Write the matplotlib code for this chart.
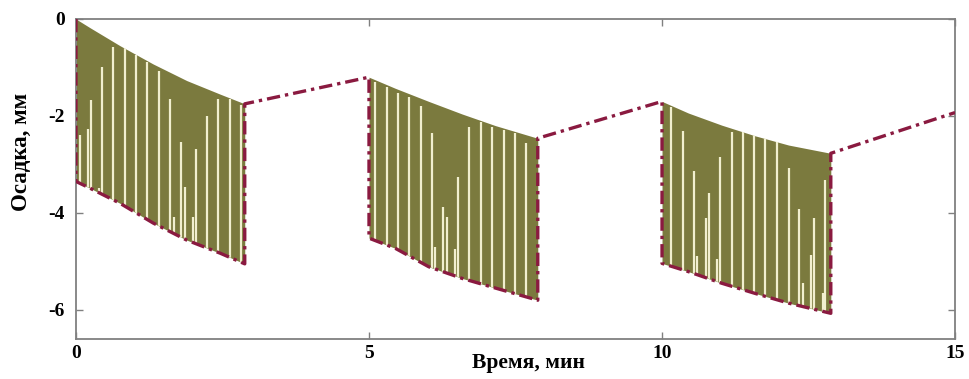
import numpy as np
import matplotlib
matplotlib.use("Agg")
import matplotlib.pyplot as plt

# ---- data ----
seg1_x = [0.0, 0.24, 0.75, 1.32, 1.89, 2.46, 2.88]
seg1_upper = [0.0, -0.18, -0.55, -0.93, -1.27, -1.55, -1.75]
seg1_lower = [-3.35, -3.49, -3.80, -4.21, -4.56, -4.83, -5.05]

seg2_x = [5.0, 5.45, 6.02, 6.59, 7.16, 7.88]
seg2_upper = [-1.20, -1.43, -1.70, -1.96, -2.20, -2.46]
seg2_lower = [-4.52, -4.73, -5.11, -5.35, -5.55, -5.80]

seg3_x = [10.0, 10.45, 11.02, 11.59, 12.16, 12.88]
seg3_upper = [-1.70, -1.94, -2.19, -2.41, -2.60, -2.77]
seg3_lower = [-5.04, -5.21, -5.45, -5.66, -5.86, -6.07]

end_x = 15.0
end_y = -1.93

# white stripes: x position and top value
stripe1_x = [0.07, 0.20, 0.26, 0.40, 0.45, 0.64, 0.84, 1.03, 1.22, 1.42, 1.61, 1.67,
             1.80, 1.86, 2.00, 2.05, 2.24, 2.43, 2.63, 2.82]
stripe1_top = [-2.39, -2.27, -1.68, -3.48, -1.00, -0.58, -0.60, -0.74, -0.88, -1.07,
               -1.64, -4.08, -2.53, -3.46, -4.08, -2.69, -2.00, -1.64, -1.64, -1.77]
stripe2_x = [5.11, 5.31, 5.49, 5.69, 5.89, 6.08, 6.13, 6.27, 6.33, 6.46, 6.52, 6.71,
             6.91, 7.10, 7.30, 7.49, 7.68]
stripe2_top = [-1.29, -1.40, -1.52, -1.61, -1.79, -2.36, -4.71, -3.87, -4.08, -4.74,
               -3.25, -2.22, -2.13, -2.22, -2.29, -2.36, -2.55]
stripe3_x = [10.15, 10.35, 10.55, 10.60, 10.75, 10.80, 10.94, 10.99, 11.19, 11.38,
             11.57, 11.76, 11.96, 12.16, 12.34, 12.40, 12.54, 12.59, 12.74, 12.78]
stripe3_top = [-1.81, -2.30, -3.13, -4.89, -4.10, -3.58, -4.95, -2.84, -2.34, -2.30,
               -2.37, -2.44, -2.51, -3.08, -3.92, -5.45, -4.87, -4.10, -5.66, -3.33]

x_ticks = [0, 5, 10, 15]
y_ticks = [0, -2, -4, -6]
y_tick_labels = ["0", "-2", "-4", "-6"]
x_label = "Время, мин"
y_label = "Осадка, мм"

# ---- style ----
FILL = "#7b7a3e"
STRIPE = "#f1efcf"
DASH = "#8a1a40"
SPINE = "#808080"
plt.rcParams['font.family'] = ['Liberation Serif', 'DejaVu Serif']
plt.rcParams['font.weight'] = 'bold'

fig = plt.figure(figsize=(9.69, 3.79), dpi=100)
ax = fig.add_axes([0.0784, 0.1055, 0.9072, 0.8444])
ax.set_xlim(0, 15)
ax.set_ylim(-6.6, 0)

segments = [(seg1_x, seg1_upper, seg1_lower, stripe1_x, stripe1_top),
            (seg2_x, seg2_upper, seg2_lower, stripe2_x, stripe2_top),
            (seg3_x, seg3_upper, seg3_lower, stripe3_x, stripe3_top)]

path_x, path_y = [], []
for sx, su, sl, tx, tt in segments:
    poly = ax.fill_between(sx, sl, su, color=FILL, linewidth=0, zorder=2)
    lines = ax.vlines(tx, -6.6, tt, colors=STRIPE, linewidth=1.6, zorder=3)
    lines.set_clip_path(poly.get_paths()[0], poly.get_transform())
    path_x += [sx[0]] + list(sx) + [sx[-1]]
    path_y += [su[0]] + list(sl) + [su[-1]]
path_x.append(end_x)
path_y.append(end_y)
ax.plot(path_x, path_y, color=DASH, linestyle=(0, (4, 1.5, 1, 1.5)), linewidth=2.4,
        zorder=4, solid_capstyle='butt')

for s in ax.spines.values():
    s.set_color(SPINE)
    s.set_linewidth(1.3)
ax.set_xticks(x_ticks)
ax.set_xticklabels([str(v) for v in x_ticks])
ax.set_yticks(y_ticks)
ax.set_yticklabels(y_tick_labels)
ax.tick_params(direction='in', length=5, width=1, color=SPINE, top=True, right=True,
               labelsize=14)
ax.tick_params(axis='y', pad=8)
ax.tick_params(axis='x', pad=4)
ax.set_xlabel(x_label, fontsize=15.5, fontweight='bold')
ax.xaxis.set_label_coords(0.515, -0.044)
ax.set_ylabel(y_label, fontsize=16.5, fontweight='bold')
ax.yaxis.set_label_coords(-0.050, 0.584)

fig.savefig("out.png", dpi=100)
